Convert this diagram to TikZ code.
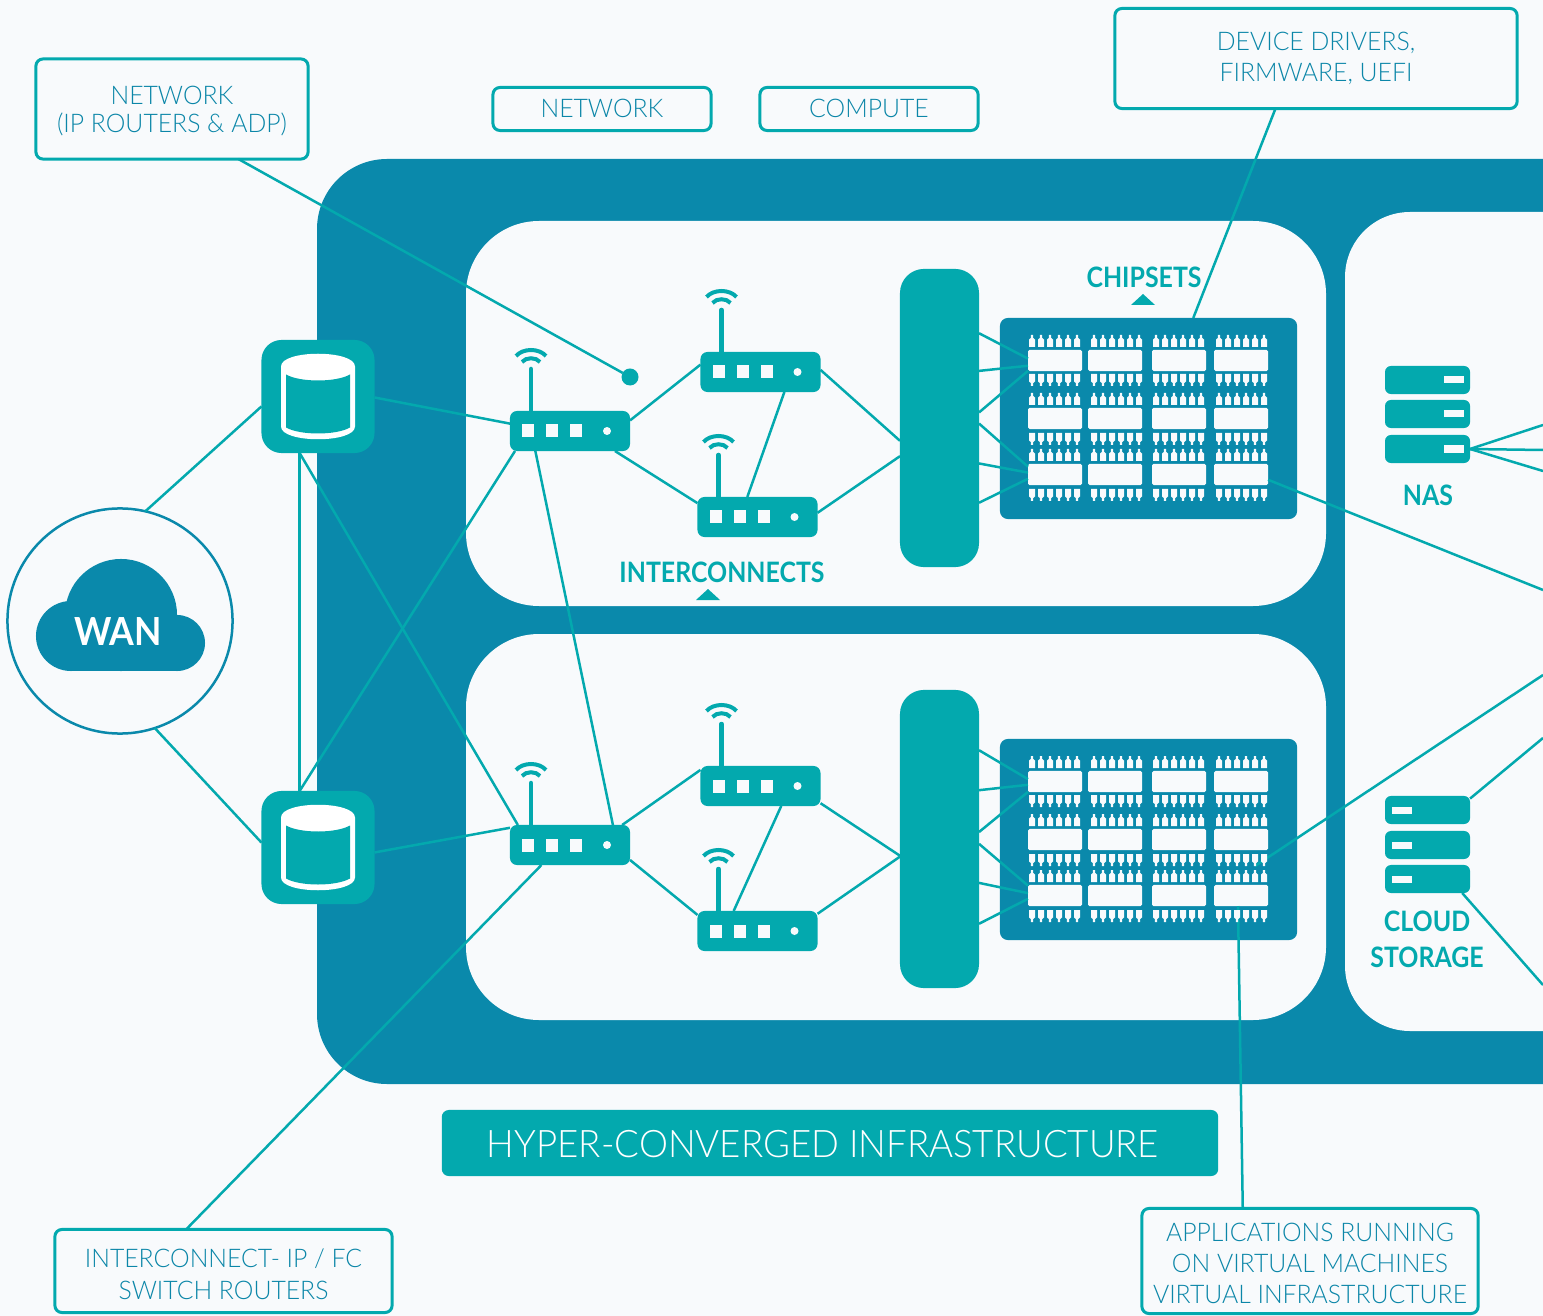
\documentclass[tikz,border=0pt]{standalone}
\usepackage{fontspec}
\setmainfont{Lato}
\newfontfamily\thinfont[FakeStretch=0.965]{Lato Light}
\newfontfamily\labelfont[FakeStretch=0.885]{Lato Bold}
\newfontfamily\wanfont[FakeStretch=0.92]{Lato Bold}
\usetikzlibrary{positioning}
\definecolor{pagebg}{HTML}{F8FAFC}
\definecolor{deepblue}{HTML}{0A89AB}
\definecolor{teal}{HTML}{03A9AE}
\definecolor{boxtext}{HTML}{0B86A8}
\tikzset{
x=0.01cm, y=-0.01cm,
link/.style={draw=teal, line width=0.025cm},
textbox/.style={draw=teal, line width=0.03cm, rounded corners=0.07cm, inner sep=0, outer sep=0, align=center, text=boxtext, font=\thinfont\fontsize{7.3pt}{8.6pt}\selectfont},
boldlabel/.style={text=teal, inner sep=0, align=center, font=\labelfont\fontsize{8pt}{10.2pt}\selectfont},
routerbox/.style={fill=teal, rounded corners=0.07cm, minimum width=1.2cm, minimum height=0.4cm, inner sep=0, outer sep=0},
dbbox/.style={fill=teal, rounded corners=0.2cm, minimum size=1.13cm, inner sep=0, outer sep=0},
switchbox/.style={fill=teal, rounded corners=0.24cm, minimum width=0.79cm, minimum height=2.98cm, inner sep=0, outer sep=0},
chipboard/.style={fill=deepblue, rounded corners=0.08cm, minimum width=2.97cm, minimum height=2.01cm, inner sep=0, outer sep=0},
chipbody/.style={fill=pagebg, rounded corners=0.015cm, minimum width=0.54cm, minimum height=0.21cm, inner sep=0, outer sep=0},
serverbox/.style={fill=teal, rounded corners=0.06cm, minimum width=0.85cm, minimum height=0.28cm, inner sep=0, outer sep=0},
ledbar/.style={fill=pagebg, minimum width=0.2cm, minimum height=0.07cm, inner sep=0, outer sep=0},
}
\newcommand{\lowered}[2]{\raisebox{#1}[0pt][0pt]{\begin{tabular}{@{}c@{}}#2\end{tabular}}}
\newcommand{\router}[3]{
  \begin{scope}[shift={(#2,#3)}]
    \node[routerbox] (#1) at (0,0) {};
    \foreach \sx in {-48,-24,0}
      \fill[pagebg] (\sx,-6.5) rectangle (\sx+12,6.5);
    \fill[pagebg] (37,0) circle[radius=0.04cm];
    \draw[teal, line width=0.045cm, line cap=round] (-39,-62) -- (-39,-20);
    \draw[teal, line width=0.04cm] (-54,-75) .. controls (-47,-83) and (-31,-83) .. (-24,-75);
    \draw[teal, line width=0.04cm] (-48,-69) .. controls (-44,-74) and (-34,-74) .. (-30,-69);
  \end{scope}
}
\newcommand{\database}[3]{
  \node[dbbox] (#1) at (#2,#3) {};
  \begin{scope}[shift={(#2,#3)}]
    \fill[white] (-37,-30) .. controls (-37,-47) and (37,-47) .. (37,-30) -- (37,30) .. controls (37,47) and (-37,47) .. (-37,30) -- cycle;
    \fill[teal] (-32,-22) .. controls (-18,-14) and (18,-14) .. (32,-22) -- (32,31) .. controls (18,39) and (-18,39) .. (-32,31) -- cycle;
  \end{scope}
}
\newcommand{\server}[4]{
  \node[serverbox] (#1) at (#2,#3) {};
  \node[ledbar] (#1led) at (#2+#4,#3) {};
}
% chip bodies, named prefix-row-column
\newcommand{\chipbodies}[2]{
  \begin{scope}[shift={(0,#2)}]
    \foreach \ry [count=\r] in {360.5,418.5,474.5}
      \foreach \cx [count=\c] in {1055,1115,1179,1241}
        \node[chipbody] (#1-\r-\c) at (\cx,\ry) {};
  \end{scope}
}
\newcommand{\chippins}[1]{
  \begin{scope}[shift={(0,#1)}]
    \foreach \px in {1032,1094,1156,1219}
      \foreach \k in {0,...,5} {
        \foreach \py in {335,393,449}
          \fill[pagebg, shift={(\px+9*\k,\py)}] (-1.2,0) -- (1.2,0) -- (1.2,3) -- (3,4.5) -- (3,12) -- (-3,12) -- (-3,4.5) -- (-1.2,3) -- cycle;
        \foreach \py in {374,433,489}
          \fill[pagebg, shift={(\px+9*\k,\py)}] (-3,0) -- (3,0) -- (3,7.5) -- (1.2,9) -- (1.2,12) -- (-1.2,12) -- (-1.2,9) -- (-3,7.5) -- cycle;
      }
  \end{scope}
}
\begin{document}
\begin{tikzpicture}
    \useasboundingbox (0,0) rectangle (1543,1316);
    \clip (0,0) rectangle (1543,1316);
    \fill[pagebg] (0,0) rectangle (1543,1316);

    %panels
    \fill[deepblue, rounded corners=0.7cm] (317,159) rectangle (1750,1084);
    \fill[pagebg, rounded corners=0.73cm] (466,221) rectangle (1326,606);
    \fill[pagebg, rounded corners=0.73cm] (466,634) rectangle (1326,1020);
    \fill[pagebg, rounded corners=0.65cm] (1345,212) rectangle (1750,1031);

    %callout boxes
    \node[textbox, minimum width=2.72cm, minimum height=1cm] (netbox) at (172,109) {\lowered{-2.84pt}{NETWORK\\[-0.6pt](IP ROUTERS \& ADP)}};
    \node[textbox, minimum width=2.18cm, minimum height=0.43cm] (netlabel) at (602,109) {\lowered{-2.4pt}{NETWORK}};
    \node[textbox, minimum width=2.18cm, minimum height=0.43cm] (computelabel) at (869,109) {\lowered{-2.4pt}{COMPUTE}};
    \node[textbox, minimum width=4.02cm, minimum height=1cm] (devicebox) at (1316,58.5) {\lowered{-2.2pt}{DEVICE DRIVERS,\\FIRMWARE, UEFI}};
    \node[textbox, minimum width=3.37cm, minimum height=0.83cm] (switchnote) at (223.5,1271) {\lowered{-3.55pt}{INTERCONNECT- IP / FC\\[0.5pt]SWITCH ROUTERS}};
    \node[textbox, minimum width=3.36cm, minimum height=1.05cm] (appbox) at (1310,1261) {\lowered{-3.27pt}{APPLICATIONS RUNNING\\[0.3pt]ON VIRTUAL MACHINES\\[0.3pt]VIRTUAL INFRASTRUCTURE}};
    \node[fill=teal, rounded corners=0.07cm, minimum width=7.76cm, minimum height=0.66cm, inner sep=0, text=white, font=\thinfont\fontsize{10.8pt}{12pt}\selectfont] (hyperbar) at (830,1143) {\raisebox{-0.3pt}[7.8pt][0pt]{HYPER-CONVERGED INFRASTRUCTURE\hspace{0.14cm}}};

    %wan
    \node[circle, draw=deepblue, fill=pagebg, line width=0.025cm, minimum size=2.25cm, inner sep=0, outer sep=0] (wan) at (120,621) {};
    \fill[deepblue] (121,615) circle[radius=0.56cm];
    \fill[deepblue] (71,636) circle[radius=0.35cm];
    \fill[deepblue] (177,643) circle[radius=0.28cm];
    \fill[deepblue] (71,640) rectangle (177,671);
    \node[text=white, inner sep=0, font=\wanfont\fontsize{11pt}{12pt}\selectfont] (wantext) at (118,632) {WAN};

    %databases
    \database{db1}{318}{396.5}
    \database{db2}{318}{847.5}

    %routers
    \router{r1}{570}{431}
    \router{r2}{760.5}{372}
    \router{r3}{757.5}{517}
    \router{r4}{570}{845}
    \router{r5}{760.5}{786}
    \router{r6}{757.5}{931}

    %switches and chip boards
    \node[switchbox] (sw1) at (939.5,418) {};
    \node[switchbox] (sw2) at (939.5,839) {};
    \node[chipboard] (board1) at (1148.5,418.5) {};
    \node[chipboard] (board2) at (1148.5,839.5) {};
    \chipbodies{a}{0}
    \chipbodies{b}{421}

    %servers
    \server{n1}{1427.5}{380}{26.5}
    \server{n2}{1427.5}{414}{26.5}
    \server{n3}{1427.5}{449}{26.5}
    \server{s1}{1427.5}{810}{-26}
    \server{s2}{1427.5}{845}{-26}
    \server{s3}{1427.5}{879}{-26}

    %free ends
    \coordinate (nasa) at (1543,425);
    \coordinate (nasb) at (1543,450);
    \coordinate (nasc) at (1543,471);
    \coordinate (chipout1) at (1543,590);
    \coordinate (chipout2) at (1543,675);
    \coordinate (chipin2) at (1255,866);
    \coordinate (cloudout1) at (1543,738);
    \coordinate (cloudout2) at (1543,985);

    %wan and database lines
    \draw[link] (wan.77) -- (db1.190);
    \draw[link] (wan.-72) -- (db2.175);
    \draw[link] (db1.252) -- (db2.108);
    \draw[link] (db1.-1.5) -- (r1.173);
    \draw[link] (db2.-5.6) -- (r4.164);
    \draw[link] (db1.252) -- (r4.159);
    \draw[link] (db2.108) -- (r1.200.7);

    %router lines
    \draw[link] (r1.10) -- (r2.173.4);
    \draw[link] (r1.-24) -- (r3.167);
    \draw[link] (r2.-40.4) -- (r3.117.7);
    \draw[link] (r1.210.5) -- (r4.25.5);
    \draw[link] (r4.21.8) -- (r5.165);
    \draw[link] (r4.-14.3) -- (r6.165);
    \draw[link] (r5.-44.3) -- (r6.140.8);

    %router to switch
    \draw[link] (r2.2) -- (sw1.210);
    \draw[link] (r3.4.7) -- (sw1.224.6);
    \draw[link] (r5.-16.6) -- (sw2.203.3);
    \draw[link] (r6.16.6) -- (sw2.204.5);

    %switch to chips
    \draw[link] (sw1.65.8) -- (a-1-1.176.8);
    \draw[link] (sw1.50.5) -- (a-1-1.191.5);
    \draw[link] (sw1.8.6) -- (a-1-1.201);
    \draw[link] (sw1.-8.6) -- (a-3-1.164.5);
    \draw[link] (sw1.-49.3) -- (a-3-1.176.8);
    \draw[link] (sw1.-65.6) -- (a-3-1.189.5);
    \draw[link] (sw2.66) -- (b-1-1.175);
    \draw[link] (sw2.51) -- (b-1-1.187);
    \draw[link] (sw2.10) -- (b-1-1.201);
    \draw[link] (sw2.-7) -- (b-3-1.160);
    \draw[link] (sw2.-48) -- (b-3-1.175);
    \draw[link] (sw2.-65) -- (b-3-1.187);

    %outgoing lines
    \draw[link] (a-3-4.-11.5) -- (chipout1);
    \draw[link] (chipin2) -- (chipout2);
    \draw[link] (n3.east) -- (nasa);
    \draw[link] (n3.east) -- (nasb);
    \draw[link] (n3.east) -- (nasc);
    \draw[link] (s1.15.8) -- (cloudout1);
    \draw[link] (s3.-22) -- (cloudout2);

    %callout lines
    \node[circle, fill=teal, minimum size=0.17cm, inner sep=0, outer sep=0] (dot1) at (630,377) {};
    \draw[link] (netbox.-37) -- (dot1);
    \draw[link] (devicebox.-129) -- (board1.66);
    \draw[link] (switchnote.132.5) -- (r4.215.5);
    \draw[link] (appbox.142.5) -- (b-3-4.254);

    \chippins{0}
    \chippins{421}

    %labels
    \node[boldlabel] (chiplabel) at (1144,277) {CHIPSETS};
    \fill[teal] (1143,294) -- (1155,305) -- (1131,305) -- cycle;
    \node[boldlabel] (interlabel) at (722,572) {INTERCONNECTS};
    \fill[teal] (708,589) -- (720,600) -- (696,600) -- cycle;
    \node[boldlabel] (naslabel) at (1428,495) {NAS};
    \node[boldlabel] (cloudlabel) at (1427,939) {CLOUD\\STORAGE};
\end{tikzpicture}
\end{document}
